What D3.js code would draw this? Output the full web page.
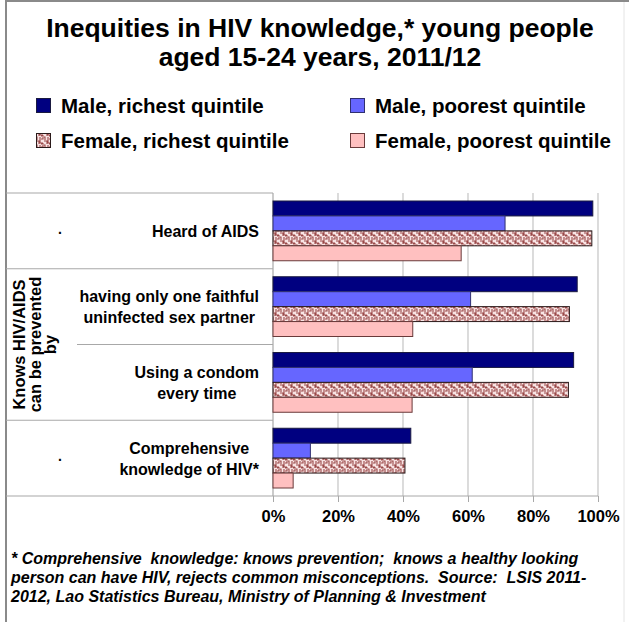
<!DOCTYPE html>
<html>
<head>
<meta charset="utf-8">
<script src="https://cdn.jsdelivr.net/npm/d3@7"></script>
<style>
  html, body { margin: 0; padding: 0; background: #fff; }
  svg { display: block; font-family: Arial, "Liberation Sans", sans-serif; }
</style>
</head>
<body>
<svg id="chart" width="629" height="622"></svg>
<script>
// ---- data ----
const categories = ["Heard of AIDS", "having only one faithful\nuninfected sex partner", "Using a condom\nevery time", "Comprehensive\nknowledge of HIV*"];
const seriesNames = ["Male, richest quintile", "Male, poorest quintile", "Female, richest quintile", "Female, poorest quintile"];
const maleRichest = [98.4, 93.6, 92.5, 42.4];
const malePoorest = [71.4, 60.8, 61.3, 11.5];
const femaleRichest = [98.1, 91.2, 90.9, 40.6];
const femalePoorest = [57.9, 43.0, 42.8, 6.2];
const xTicks = [0, 20, 40, 60, 80, 100];
const titleLines = ["Inequities in HIV knowledge,* young people", "aged 15-24 years, 2011/12"];
const groupLabel = ["Knows HIV/AIDS", "can be prevented", "by"];
const footnoteLines = [
  "* Comprehensive  knowledge: knows prevention;  knows a healthy looking",
  "person can have HIV, rejects common misconceptions.  Source:  LSIS 2011-",
  "2012, Lao Statistics Bureau, Ministry of Planning & Investment"
];

const seriesValues = [maleRichest, malePoorest, femaleRichest, femalePoorest];
const fills = ["#000080", "#6666ff", "url(#weave)", "#ffc0c0"];
const strokes = ["#1a1a40", "#303070", "#2a1a1a", "#6a3a3a"];

const svg = d3.select("#chart");

// pattern for female richest
const defs = svg.append("defs");
const pat = defs.append("pattern").attr("id", "weave").attr("patternUnits", "userSpaceOnUse")
  .attr("width", 8).attr("height", 8);
pat.append("rect").attr("width", 8).attr("height", 8).attr("fill", "#f8e4e4");
pat.append("path").attr("d", "M0,1 L3,1 L3,4 M4,0 L4,3 L7,3 M5,4 L8,4 M4,5 L4,8 M0,5 L1,5 L1,8 M7,5 L7,7 L5,7")
  .attr("stroke", "#9a4848").attr("stroke-width", 1.1).attr("fill", "none");

// frame
svg.append("rect").attr("x", 0).attr("y", 0).attr("width", 629).attr("height", 622).attr("fill", "#fff");
svg.append("line").attr("x1", 6).attr("x2", 629).attr("y1", 1).attr("y2", 1).attr("stroke", "#8a8a8a").attr("stroke-width", 2);
svg.append("line").attr("x1", 6).attr("x2", 6).attr("y1", 0).attr("y2", 622).attr("stroke", "#8a8a8a").attr("stroke-width", 2);
svg.append("line").attr("x1", 624).attr("x2", 624).attr("y1", 2).attr("y2", 622).attr("stroke", "#e4e4e4").attr("stroke-width", 1);

// title
svg.append("g").selectAll("text").data(titleLines).join("text")
  .attr("x", 320).attr("y", (d, i) => 37 + i * 29)
  .attr("text-anchor", "middle").attr("font-size", 26.5).attr("font-weight", "bold").attr("fill", "#000")
  .text(d => d);

// legend
const legPos = [[36, 113], [350, 113], [36, 148], [350, 148]];
const leg = svg.append("g").selectAll("g").data(seriesNames).join("g")
  .attr("transform", (d, i) => `translate(${legPos[i][0]},${legPos[i][1]})`);
leg.append("rect").attr("x", 0.5).attr("y", -14.5).attr("width", 14).attr("height", 14)
  .attr("fill", (d, i) => fills[i]).attr("stroke", (d, i) => strokes[i]).attr("stroke-width", 1);
leg.append("text").attr("x", 25).attr("y", 0).attr("font-size", 20.5).attr("font-weight", "bold").text(d => d);

// scales
const pLeft = 273, pRight = 598, pTop = 193, pBottom = 496;
const x = d3.scaleLinear().domain([0, 100]).range([pLeft, pRight]);
const y = d3.scaleBand().domain(categories).range([pTop, pBottom]).padding(0);
const ys = d3.scaleBand().domain(d3.range(4)).range([8, y.bandwidth() - 8]).padding(0);

// gridlines
svg.append("g").selectAll("line").data(xTicks.slice(1)).join("line")
  .attr("x1", d => x(d)).attr("x2", d => x(d)).attr("y1", pTop).attr("y2", pBottom)
  .attr("stroke", "#c4c4c4").attr("stroke-width", 1.2);

// axis
const axis = d3.axisBottom(x).tickValues(xTicks).tickFormat(d => d + "%").tickSize(6).tickPadding(7);
const gx = svg.append("g").attr("transform", `translate(0,${pBottom})`).call(axis);
gx.select(".domain").attr("stroke", "#a8a8a8").attr("d", `M${pLeft},0H${pRight}`);
gx.selectAll(".tick line").attr("stroke", "#a8a8a8");
gx.selectAll(".tick text").attr("font-size", 16.5).attr("font-weight", "bold").attr("fill", "#000")
  .attr("font-family", "Arial, 'Liberation Sans', sans-serif").attr("dy", "0.8em");

// left table lines
const tbl = svg.append("g").attr("stroke", "#a8a8a8").attr("stroke-width", 1.2);
tbl.append("line").attr("x1", 6).attr("x2", pLeft).attr("y1", pTop).attr("y2", pTop);
tbl.append("line").attr("x1", pLeft).attr("x2", pLeft).attr("y1", pTop).attr("y2", pBottom);
tbl.append("line").attr("x1", 6).attr("x2", pLeft).attr("y1", pBottom).attr("y2", pBottom);
categories.forEach((c, i) => {
  if (i === 0) return;
  const x1 = (i === 2) ? 77 : 6;
  tbl.append("line").attr("x1", x1).attr("x2", pLeft).attr("y1", y(c)).attr("y2", y(c));
});

// bars
const bars = svg.append("g");
seriesValues.forEach((vals, si) => {
  bars.append("g").selectAll("rect").data(vals).join("rect")
    .attr("x", x(0)).attr("y", (d, i) => y(categories[i]) + ys(si))
    .attr("width", d => x(d) - x(0)).attr("height", ys.bandwidth())
    .attr("fill", fills[si]).attr("stroke", strokes[si]).attr("stroke-width", 1);
});

// category labels (block right-aligned, lines centered)
const labG = svg.append("g");
categories.forEach(c => {
  const lines = c.split("\n");
  const g = labG.append("g");
  const t = g.selectAll("text").data(lines).join("text")
    .attr("font-size", 16).attr("font-weight", "bold").attr("text-anchor", "middle")
    .attr("y", (d, i) => y(c) + y.bandwidth() / 2 + 6 + (i - (lines.length - 1) / 2) * 21)
    .text(d => d);
  let maxW = 0;
  t.each(function () { maxW = Math.max(maxW, this.getComputedTextLength()); });
  t.attr("x", 259 - maxW / 2);
});
// dots in group column for ungrouped rows
[categories[0], categories[3]].forEach(c => {
  labG.append("text").attr("x", 60).attr("y", y(c) + y.bandwidth() / 2 + 3)
    .attr("font-size", 14).attr("font-weight", "bold").attr("text-anchor", "middle").text(".");
});
// rotated group label
const gyc = (y(categories[1]) + y(categories[2]) + y.bandwidth()) / 2;
svg.append("g").attr("transform", `translate(0,${gyc}) rotate(-90)`)
  .selectAll("text").data(groupLabel).join("text")
  .attr("x", 0).attr("y", (d, i) => 25 + i * 15.5)
  .attr("text-anchor", "middle").attr("font-size", 16.5).attr("font-weight", "bold").text(d => d);

// footnote
svg.append("g").selectAll("text").data(footnoteLines).join("text")
  .attr("x", 11).attr("y", (d, i) => 564 + i * 19)
  .attr("font-size", 16).attr("font-weight", "bold").attr("font-style", "italic")
  .attr("xml:space", "preserve").style("white-space", "pre")
  .text(d => d);
</script>
</body>
</html>
